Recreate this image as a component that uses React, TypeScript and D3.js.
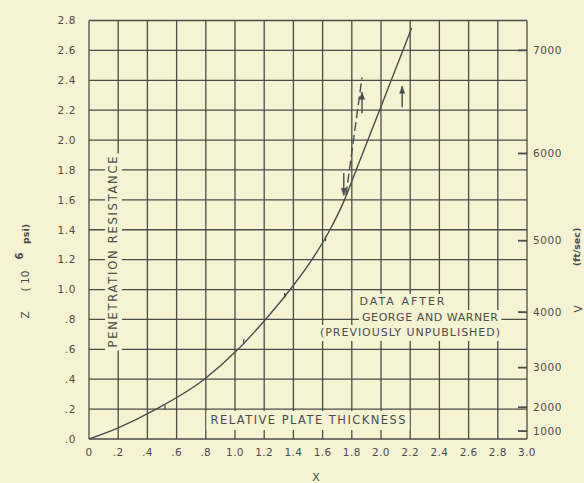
import { useEffect, useRef } from 'react';
import * as d3 from 'd3';

// relative plate thickness vs penetration resistance
const curveX = [0, 0.2, 0.46, 0.79, 1.01, 1.2, 1.37, 1.52, 1.645, 1.75, 1.83, 1.91, 1.99, 2.07, 2.15, 2.21];
const curveZ = [0, 0.075, 0.2, 0.4, 0.59, 0.79, 0.99, 1.19, 1.39, 1.6, 1.8, 2.0, 2.2, 2.4, 2.6, 2.75];

// small marks sitting on the curve
const markX = [0.52, 1.06, 1.34, 1.62];
const markZ = [0.21, 0.65, 0.96, 1.34];

// dashed branch
const dashX = [1.76, 1.87];
const dashZ = [1.63, 2.42];

// arrows: x, z start, z end (head at end)
const arrowX = [1.745, 1.87, 2.145];
const arrowFrom = [1.78, 2.18, 2.22];
const arrowTo = [1.63, 2.32, 2.36];

const xTicks = [0, 0.2, 0.4, 0.6, 0.8, 1.0, 1.2, 1.4, 1.6, 1.8, 2.0, 2.2, 2.4, 2.6, 2.8, 3.0];
const xTickLabels = ['0', '.2', '.4', '.6', '.8', '1.0', '1.2', '1.4', '1.6', '1.8', '2.0', '2.2', '2.4', '2.6', '2.8', '3.0'];
const zTicks = [0, 0.2, 0.4, 0.6, 0.8, 1.0, 1.2, 1.4, 1.6, 1.8, 2.0, 2.2, 2.4, 2.6, 2.8];
const zTickLabels = ['.0', '.2', '.4', '.6', '.8', '1.0', '1.2', '1.4', '1.6', '1.8', '2.0', '2.2', '2.4', '2.6', '2.8'];
const vTicks = [1000, 2000, 3000, 4000, 5000, 6000, 7000];
const vAtTop = 7264; // velocity that corresponds to Z = 2.8

const noteLines = ['DATA AFTER', 'GEORGE AND WARNER', '(PREVIOUSLY UNPUBLISHED)'];

const PAPER = '#f5f3d3';
const INK = '#4b4d4a';
const FONT = '"DejaVu Sans", sans-serif';

const W = 584;
const H = 483;

const App = () => {
  const svgRef = useRef<SVGSVGElement>(null);

  useEffect(() => {
    const svg = d3.select(svgRef.current);
    svg.selectAll('*').remove();

    const x = d3.scaleLinear().domain([0, 3]).range([89, 527]);
    const z = d3.scaleLinear().domain([0, 2.8]).range([439, 20.5]);
    const v = d3.scalePow().exponent(2).domain([0, vAtTop]).range([439, 20.5]);

    svg.append('rect').attr('width', W).attr('height', H).attr('fill', PAPER);

    // grid
    const grid = svg.append('g').attr('stroke', INK).attr('stroke-width', 1.3);
    grid
      .selectAll('line.v')
      .data(xTicks)
      .join('line')
      .attr('x1', (d) => x(d))
      .attr('x2', (d) => x(d))
      .attr('y1', z(0))
      .attr('y2', z(2.8));
    grid
      .selectAll('line.h')
      .data(zTicks)
      .join('line')
      .attr('class', 'h')
      .attr('x1', x(0))
      .attr('x2', x(3))
      .attr('y1', (d) => z(d))
      .attr('y2', (d) => z(d));

    // right velocity ticks (inside)
    svg
      .append('g')
      .selectAll('line')
      .data(vTicks)
      .join('line')
      .attr('x1', x(3) - 9)
      .attr('x2', x(3))
      .attr('y1', (d) => v(d))
      .attr('y2', (d) => v(d))
      .attr('stroke', INK)
      .attr('stroke-width', 1.8);

    // left tick labels
    svg
      .append('g')
      .attr('fill', INK)
      .style('font-family', FONT)
      .selectAll('text')
      .data(zTicks)
      .join('text')
      .attr('x', 76)
      .attr('y', (d) => z(d))
      .attr('dy', '0.36em')
      .attr('text-anchor', 'end')
      .style('font-size', '10.5px')
      .style('letter-spacing', '0.6px')
      .text((d, i) => zTickLabels[i]);

    // bottom tick labels
    svg
      .append('g')
      .attr('fill', INK)
      .style('font-family', FONT)
      .selectAll('text')
      .data(xTicks)
      .join('text')
      .attr('x', (d) => x(d))
      .attr('y', 456)
      .attr('text-anchor', 'middle')
      .style('font-size', '10.5px')
      .style('letter-spacing', '0.4px')
      .text((d, i) => xTickLabels[i]);

    // right tick labels
    svg
      .append('g')
      .attr('fill', INK)
      .style('font-family', FONT)
      .selectAll('text')
      .data(vTicks)
      .join('text')
      .attr('x', 533)
      .attr('y', (d) => v(d))
      .attr('dy', '0.36em')
      .style('font-size', '10.5px')
      .style('letter-spacing', '0.6px')
      .text((d) => d);

    // labels in the plot, each with a paper patch behind it
    const masked = (sel, pad = 2) => {
      const b = sel.node().getBBox();
      const t = sel.attr('transform');
      svg
        .insert('rect', () => sel.node())
        .attr('x', b.x - pad)
        .attr('y', b.y - pad + 2)
        .attr('width', b.width + pad * 2)
        .attr('height', b.height + pad * 2 - 3)
        .attr('fill', PAPER)
        .attr('transform', t);
    };

    const pen = svg
      .append('text')
      .attr('transform', 'translate(117,252) rotate(-90)')
      .attr('text-anchor', 'middle')
      .attr('fill', INK)
      .style('font-family', FONT)
      .style('font-size', '11.5px')
      .attr('textLength', 191)
      .attr('lengthAdjust', 'spacing')
      .text('PENETRATION   RESISTANCE');
    masked(pen, 3);

    const rel = svg
      .append('text')
      .attr('x', 308)
      .attr('y', 424)
      .attr('text-anchor', 'middle')
      .attr('fill', INK)
      .style('font-family', FONT)
      .style('font-size', '11.5px')
      .attr('textLength', 195)
      .attr('lengthAdjust', 'spacing')
      .text('RELATIVE  PLATE  THICKNESS');
    masked(rel, 4);

    const noteX = [402, 430, 410];
    const noteY = [305, 321, 336];
    const noteLen = [85, 136, 180];
    noteLines.forEach((s, i) => {
      const t = svg
        .append('text')
        .attr('x', noteX[i])
        .attr('y', noteY[i])
        .attr('text-anchor', 'middle')
        .attr('fill', INK)
        .style('font-family', FONT)
        .style('font-size', '11px')
        .attr('textLength', noteLen[i])
        .attr('lengthAdjust', 'spacing')
        .text(s);
      masked(t, 3);
    });

    // axis titles
    const axisT = svg.append('g').attr('fill', INK).style('font-family', FONT);
    axisT
      .append('text')
      .attr('transform', 'translate(29,315) rotate(-90)')
      .attr('text-anchor', 'middle')
      .style('font-size', '10.5px')
      .text('Z');
    axisT
      .append('text')
      .attr('transform', 'translate(29,281) rotate(-90)')
      .attr('text-anchor', 'middle')
      .style('font-size', '10.5px')
      .text('( 10');
    axisT
      .append('text')
      .attr('transform', 'translate(23,256) rotate(-90)')
      .attr('text-anchor', 'middle')
      .style('font-size', '10px')
      .style('font-weight', 'bold')
      .text('6');
    axisT
      .append('text')
      .attr('transform', 'translate(29,234) rotate(-90)')
      .attr('text-anchor', 'middle')
      .style('font-size', '9.5px')
      .style('font-weight', 'bold')
      .text('psi)');
    axisT
      .append('text')
      .attr('transform', 'translate(582,309) rotate(-90)')
      .attr('text-anchor', 'middle')
      .style('font-size', '10.5px')
      .text('V');
    axisT
      .append('text')
      .attr('transform', 'translate(580,247) rotate(-90)')
      .attr('text-anchor', 'middle')
      .style('font-size', '9.5px')
      .style('font-weight', 'bold')
      .text('(ft/sec)');
    axisT
      .append('text')
      .attr('x', 316)
      .attr('y', 481)
      .attr('text-anchor', 'middle')
      .style('font-size', '11px')
      .text('X');

    // curve
    const pts = curveX.map((d, i) => [x(d), z(curveZ[i])]);
    svg
      .append('path')
      .attr('d', d3.line().curve(d3.curveMonotoneX)(pts))
      .attr('fill', 'none')
      .attr('stroke', INK)
      .attr('stroke-width', 1.4);

    svg
      .append('g')
      .selectAll('line')
      .data(markX)
      .join('line')
      .attr('x1', (d) => x(d))
      .attr('x2', (d) => x(d))
      .attr('y1', (d, i) => z(markZ[i]) - 2.5)
      .attr('y2', (d, i) => z(markZ[i]) + 2.5)
      .attr('stroke', INK)
      .attr('stroke-width', 1.3);

    svg
      .append('line')
      .attr('x1', x(dashX[0]))
      .attr('y1', z(dashZ[0]))
      .attr('x2', x(dashX[1]))
      .attr('y2', z(dashZ[1]))
      .attr('stroke', INK)
      .attr('stroke-width', 1.4)
      .attr('stroke-dasharray', '9 4');

    const arrows = svg.append('g').attr('stroke', INK).attr('fill', INK);
    arrowX.forEach((ax, i) => {
      const px = x(ax);
      const y0 = z(arrowFrom[i]);
      const y1 = z(arrowTo[i]);
      const dir = y1 > y0 ? 1 : -1;
      arrows
        .append('line')
        .attr('x1', px)
        .attr('x2', px)
        .attr('y1', y0)
        .attr('y2', y1)
        .attr('stroke-width', 1.4);
      arrows
        .append('path')
        .attr('d', `M${px},${y1}L${px - 2.5},${y1 - dir * 7}L${px + 2.5},${y1 - dir * 7}Z`)
        .attr('stroke-width', 0.6);
    });
  }, []);

  return (
    <svg
      ref={svgRef}
      width={W}
      height={H}
      style={{ position: 'absolute', left: 0, top: 0, display: 'block' }}
    />
  );
};

export default App;
